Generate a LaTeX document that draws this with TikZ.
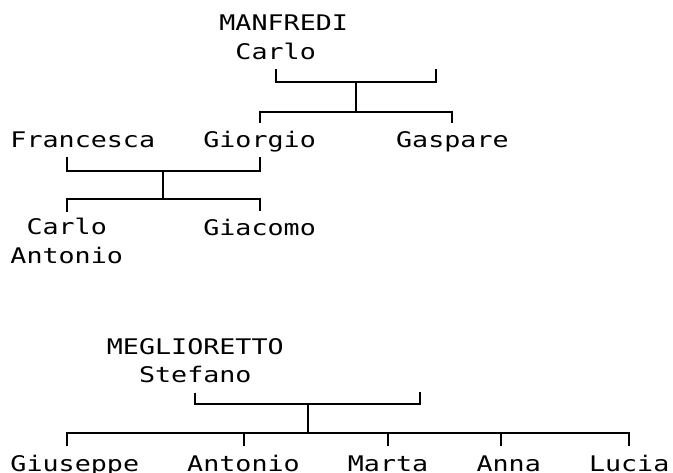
\documentclass[tikz,border=0pt]{standalone}
\usepackage{fontspec}
\usepackage{tikz}
\usetikzlibrary{calc}
\newfontfamily\treefont[FakeStretch=1.242]{DejaVu Sans Mono}
\tikzset{
  link/.style={draw=black, line width=2pt},
  person/.style={font=\treefont\fontsize{21.5}{28.6}\selectfont, inner sep=0pt,
    anchor=base, text height=24.4pt, text depth=9.5pt},
  twoline/.style={person, align=center, text height=51.5pt},
}

\begin{document}
\begin{tikzpicture}[x=1pt, y=-1pt]
  \useasboundingbox (0,0) rectangle (673,472);

  % Manfredi
  \node[twoline, align=left] (carlo) at (283.7,59.3) {MANFREDI\\\hphantom{M}Carlo};
  \node[person] (francesca) at (82.8,147.7) {Francesca};
  \node[person] (giorgio) at (259.6,147.7) {Giorgio};
  \node[person] (gaspare) at (452.4,147.7) {Gaspare};
  \node[twoline] (carloant) at (66.7,263.3) {Carlo\\Antonio};
  \node[person] (giacomo) at (259.6,235.7) {Giacomo};

  \coordinate (wife1) at (436.3,69.3);
  \coordinate (m1) at (356,81.7);
  \coordinate (k1) at (356,111.7);
  \coordinate (m2) at (163.1,170.7);
  \coordinate (k2) at (163.1,199);

  \draw[link] ([xshift=-8pt]carlo.south) |- (m1) -| (wife1);
  \draw[link] (m1) -- (k1);
  \draw[link] (giorgio.north) |- (k1) -| (gaspare.north);
  \draw[link] ([xshift=-16pt]francesca.south) |- (m2) -| (giorgio.south);
  \draw[link] (m2) -- (k2);
  \draw[link] (carloant.north) |- (k2) -| (giacomo.north);

  % Meglioretto
  \node[twoline] (stefano) at (195.3,382.8) {MEGLIORETTO\\Stefano};
  \node[person] (giuseppe) at (74.8,471) {Giuseppe};
  \node[person] (antonio) at (243.5,471) {Antonio};
  \node[person] (marta) at (388.1,471) {Marta};
  \node[person] (anna) at (508.7,471) {Anna};
  \node[person] (lucia) at (629.2,471) {Lucia};

  \coordinate (wife2) at (420.3,391.7);
  \coordinate (m3) at (307.8,404.3);
  \coordinate (k3) at (307.8,433.3);

  \draw[link] (stefano.south) |- (m3) -| (wife2);
  \draw[link] (m3) -- (k3);
  \draw[link] ([xshift=-8pt]giuseppe.north) |- (k3) -| (lucia.north);
  \foreach \n in {antonio, marta}
    \draw[link] (\n.north) |- (k3);
  \draw[link] ([xshift=-8pt]anna.north) |- (k3);
\end{tikzpicture}
\end{document}
